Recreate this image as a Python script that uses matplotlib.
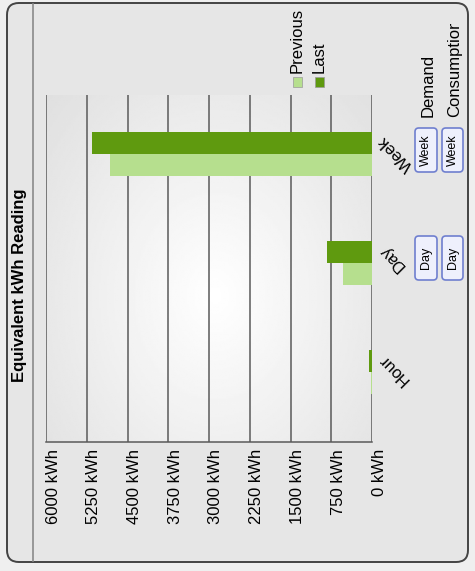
import numpy as np
import matplotlib
matplotlib.use("Agg")
import matplotlib.pyplot as plt
from matplotlib.patches import FancyBboxPatch, Rectangle
from matplotlib.transforms import ScaledTranslation

plt.rcParams["font.family"] = ["Liberation Sans", "DejaVu Sans"]

# Dados
categorias = ["Hour", "Day", "Week"]
previous = [25, 530, 4830]
last = [60, 830, 5150]
ticks_kwh = [0, 750, 1500, 2250, 3000, 3750, 4500, 5250, 6000]
tick_labels = [f"{v} kWh" for v in ticks_kwh]
titulo = "Equivalent kWh Reading"

# Cores
cor_last = "#5f9a0f"
cor_prev = "#b6df8e"
cor_grid = "#5a5a5a"

W, H = 475, 571
fig = plt.figure(figsize=(W / 100, H / 100), dpi=100)
fig.patch.set_facecolor("#efefef")

def fx(x):
    return x / W

def fy(y):
    return 1 - y / H

# Moldura externa arredondada
frame = FancyBboxPatch((fx(7), fy(562)), fx(468) - fx(7), fy(3) - fy(562),
                       boxstyle="round,pad=0,rounding_size=0.025",
                       mutation_aspect=W / H, transform=fig.transFigure,
                       facecolor="#e6e6e6", edgecolor="#444444", linewidth=1.4,
                       zorder=-2)
fig.patches.append(frame)
fig.add_artist(plt.Line2D([fx(33), fx(33)], [fy(4), fy(561)], color="#8a8a8a",
                          lw=1.2, transform=fig.transFigure, zorder=-1))

# Titulo
fig.text(fx(20), fy(285), titulo, rotation=90, fontsize=12, fontweight="bold",
         ha="center", va="center")

# Eixo principal
ax = fig.add_axes([fx(46), fy(442), fx(372) - fx(46), fy(95) - fy(442)])
ax.set_facecolor("none")
ax.set_zorder(2)

# Fundo com gradiente radial
gx, gy = np.meshgrid(np.linspace(0, 1, 200), np.linspace(0, 1, 200))
r = np.sqrt(((gx - 0.52) / 0.75) ** 2 + ((gy - 0.42) / 0.9) ** 2)
r = np.clip(r, 0, 1)
img = 1.0 - 0.13 * r
ax.imshow(img, cmap="gray", vmin=0, vmax=1, extent=[0, 1, 0, 1],
          transform=ax.transAxes, aspect="auto", zorder=0, origin="lower")

pos = np.arange(len(categorias))
h = 0.2
ax.barh(pos + h / 2, last, height=h, color=cor_last, zorder=3)
ax.barh(pos - h / 2, previous, height=h, color=cor_prev, zorder=3)

ax.set_xlim(6000, 0)
ax.set_ylim(-0.642, 2.541)
ax.set_xticks(ticks_kwh)
ax.set_xticklabels(tick_labels, rotation=90, fontsize=12, va="top", ha="center")
ax.tick_params(axis="x", length=0, pad=5)
for lab in ax.get_xticklabels():
    lab.set_transform(lab.get_transform() + ScaledTranslation(0.07, 0, fig.dpi_scale_trans))

ax.yaxis.tick_right()
ax.set_yticks(pos)
ax.set_yticklabels(categorias, rotation=135, rotation_mode="anchor",
                   ha="right", va="center", fontsize=12)
ax.tick_params(axis="y", length=0, pad=0)
for lab in ax.get_yticklabels():
    lab.set_transform(lab.get_transform() + ScaledTranslation(0.09, 0.16, fig.dpi_scale_trans))

ax.grid(axis="x", color=cor_grid, lw=1.1, zorder=1)
ax.set_axisbelow(False)
for s in ["top", "left", "right"]:
    ax.spines[s].set_visible(False)
ax.spines["bottom"].set_color(cor_grid)
ax.spines["bottom"].set_linewidth(1.1)

# Legenda
for nome, cor, x in [("Previous", cor_prev, 297), ("Last", cor_last, 319)]:
    fig.patches.append(Rectangle((fx(x - 4.5), fy(87)), fx(9), fy(77) - fy(87),
                                 transform=fig.transFigure, facecolor=cor,
                                 edgecolor="#9a9a9a", lw=0.5))
    fig.text(fx(x), fy(73), nome, rotation=90, rotation_mode="anchor",
             ha="left", va="center", fontsize=12)

# Botoes
def botao(x0, x1, y0, y1, texto):
    b = FancyBboxPatch((fx(x0), fy(y1)), fx(x1) - fx(x0), fy(y0) - fy(y1),
                       boxstyle="round,pad=0,rounding_size=0.008",
                       mutation_aspect=W / H, transform=fig.transFigure,
                       facecolor="#eef0fc", edgecolor="#6f7fcf", lw=1.2)
    fig.patches.append(b)
    fig.text(fx((x0 + x1) / 2), fy((y0 + y1) / 2), texto, rotation=90,
             ha="center", va="center", fontsize=9)

botao(415, 437, 128, 172, "Week")
botao(442, 463, 128, 172, "Week")
botao(415, 437, 236, 280, "Day")
botao(442, 463, 236, 280, "Day")

fig.text(fx(428), fy(117), "Demand", rotation=90, rotation_mode="anchor",
         ha="left", va="center", fontsize=12)
t = fig.text(fx(455), fy(117), "Consumption", rotation=90, rotation_mode="anchor",
             ha="left", va="center", fontsize=12)
t.set_clip_box(matplotlib.transforms.Bbox.from_extents(440, H - 130, 470, H - 24))
t.set_clip_on(True)

fig.savefig("out.png", dpi=100, facecolor=fig.get_facecolor())
